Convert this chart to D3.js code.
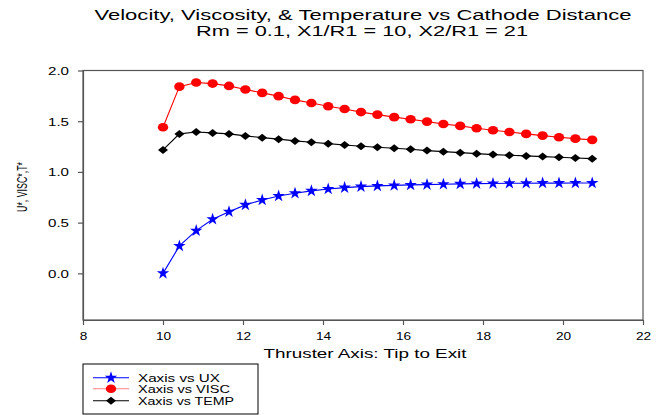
<!DOCTYPE html>
<html>
<head>
<meta charset="utf-8">
<script src="https://cdn.jsdelivr.net/npm/d3@7/dist/d3.min.js"></script>
<style>
  html, body { margin: 0; padding: 0; background: #fff; }
  svg { display: block; font-family: "Liberation Sans", Arial, sans-serif; }
</style>
</head>
<body>
<svg id="chart" width="665" height="415"></svg>
<script>
// Distance along the thruster axis (X/R1)
const xValues = [10.00, 10.41, 10.83, 11.24, 11.65, 12.06, 12.48, 12.89, 13.30, 13.71,
                 14.13, 14.54, 14.95, 15.36, 15.78, 16.19, 16.60, 17.01, 17.43, 17.84,
                 18.25, 18.66, 19.08, 19.49, 19.90, 20.31, 20.73];
// Normalised axial velocity U*
const uxValues = [0.000, 0.270, 0.421, 0.534, 0.608, 0.675, 0.724, 0.763, 0.790, 0.813,
                  0.832, 0.845, 0.855, 0.862, 0.867, 0.872, 0.875, 0.879, 0.882, 0.885,
                  0.886, 0.888, 0.889, 0.890, 0.890, 0.891, 0.891];
// Normalised viscosity VISC*
const viscValues = [1.441, 1.841, 1.881, 1.871, 1.848, 1.812, 1.779, 1.747, 1.710, 1.680,
                    1.648, 1.621, 1.590, 1.565, 1.540, 1.520, 1.496, 1.473, 1.454, 1.431,
                    1.411, 1.394, 1.375, 1.358, 1.342, 1.328, 1.316];
// Normalised temperature T*
const tempValues = [1.217, 1.375, 1.394, 1.385, 1.375, 1.355, 1.338, 1.323, 1.306, 1.293,
                    1.279, 1.266, 1.253, 1.243, 1.234, 1.224, 1.210, 1.200, 1.190, 1.180,
                    1.171, 1.165, 1.158, 1.151, 1.145, 1.138, 1.131];

const xTicks = [8, 10, 12, 14, 16, 18, 20, 22];
const yTicks = [0.0, 0.5, 1.0, 1.5, 2.0];
const xDomain = [8, 22];
const yDomain = [-0.46, 2.0];

const titleLines = ["Velocity, Viscosity, & Temperature vs Cathode Distance",
                    "Rm = 0.1, X1/R1 = 10, X2/R1 = 21"];
const xTitle = "Thruster Axis: Tip to Exit";
const yTitle = "U*, VISC*,T*";
const seriesNames = ["Xaxis vs UX", "Xaxis vs VISC", "Xaxis vs TEMP"];

const svg = d3.select("#chart");
const plot = { left: 83, right: 643, top: 70.5, bottom: 320 };

const x = d3.scaleLinear().domain(xDomain).range([plot.left, plot.right]);
const y = d3.scaleLinear().domain(yDomain).range([plot.bottom, plot.top]);

// Horizontally stretched text: font size sets glyph height, textLength sets width
function stretchedText(sel, str, size, width, anchor) {
  return sel.append("text")
    .text(str)
    .attr("font-size", size)
    .attr("text-anchor", anchor || "start")
    .attr("textLength", width)
    .attr("lengthAdjust", "spacingAndGlyphs")
    .attr("fill", "#000");
}

// Title
stretchedText(svg, titleLines[0], 15, 537, "middle").attr("x", 363).attr("y", 20);
stretchedText(svg, titleLines[1], 15, 332, "middle").attr("x", 362).attr("y", 36);

// Frame
svg.append("rect")
  .attr("x", plot.left).attr("y", plot.top)
  .attr("width", plot.right - plot.left).attr("height", plot.bottom - plot.top)
  .attr("fill", "none").attr("stroke", "#555").attr("stroke-width", 1.2);

// Axes
const xAxis = svg.append("g")
  .attr("transform", `translate(0,${plot.bottom})`)
  .call(d3.axisBottom(x).tickValues(xTicks).tickSize(5).tickSizeOuter(0).tickFormat(d3.format("d")));
const yAxis = svg.append("g")
  .attr("transform", `translate(${plot.left},0)`)
  .call(d3.axisLeft(y).tickValues(yTicks).tickSize(5).tickSizeOuter(0).tickFormat(d3.format(".1f")));

[xAxis, yAxis].forEach(g => {
  g.select(".domain").attr("stroke", "#555").attr("stroke-width", 1.2);
  g.selectAll(".tick line").attr("stroke", "#555").attr("stroke-width", 1.2);
  g.selectAll(".tick text")
    .attr("font-family", "Liberation Sans, Arial, sans-serif")
    .attr("font-size", 11)
    .attr("fill", "#000")
    .attr("lengthAdjust", "spacingAndGlyphs");
});
xAxis.selectAll(".tick text")
  .attr("y", 12)
  .attr("textLength", d => String(d).length * 7.6);
yAxis.selectAll(".tick text")
  .attr("x", -14)
  .attr("dy", "0.36em")
  .attr("textLength", 21);

// Axis titles
stretchedText(svg, xTitle, 13, 203, "middle").attr("x", 365).attr("y", 358);
stretchedText(svg, yTitle, 11, 50, "middle")
  .attr("transform", "translate(27,187) rotate(-90) scale(1,1.3)");

// Marker shapes
const star = d3.symbol().type(d3.symbolStar).size(48)();
const diamond = "M0,-4L5,0L0,4L-5,0Z";

const series = [
  { name: seriesNames[0], values: uxValues, color: "#0000ff", legendLine: "#0000ff", marker: "star" },
  { name: seriesNames[1], values: viscValues, color: "#ff0000", legendLine: "#ff8080", marker: "circle" },
  { name: seriesNames[2], values: tempValues, color: "#000000", legendLine: "#000000", marker: "diamond" }
];

function drawMarker(g, s, cx, cy) {
  if (s.marker === "circle") {
    g.append("ellipse").attr("cx", cx).attr("cy", cy).attr("rx", 5.2).attr("ry", 4.3).attr("fill", s.color);
  } else if (s.marker === "diamond") {
    g.append("path").attr("d", diamond).attr("transform", `translate(${cx},${cy})`).attr("fill", s.color);
  } else {
    g.append("path").attr("d", star).attr("transform", `translate(${cx},${cy})`).attr("fill", s.color);
  }
}

const line = d3.line().x(d => x(d[0])).y(d => y(d[1]));

series.forEach(s => {
  const pts = xValues.map((xv, i) => [xv, s.values[i]]);
  const g = svg.append("g").attr("class", "series");
  g.append("path").attr("d", line(pts)).attr("fill", "none")
    .attr("stroke", s.color).attr("stroke-width", 1.1);
  pts.forEach(p => drawMarker(g, s, x(p[0]), y(p[1])));
});

// Legend
const legend = svg.append("g");
legend.append("rect").attr("x", 83).attr("y", 364).attr("width", 175).attr("height", 50)
  .attr("fill", "#fff").attr("stroke", "#000").attr("stroke-width", 1);
const legendRows = [377.7, 388.8, 400.7];
const legendWidths = [82, 92, 96];
series.forEach((s, i) => {
  const ly = legendRows[i];
  legend.append("line").attr("x1", 93).attr("x2", 129).attr("y1", ly).attr("y2", ly)
    .attr("stroke", s.legendLine).attr("stroke-width", 1.1);
  drawMarker(legend, s, 111, ly);
  stretchedText(legend, s.name, 11, legendWidths[i], "start").attr("x", 138).attr("y", ly + 4);
});
</script>
</body>
</html>
